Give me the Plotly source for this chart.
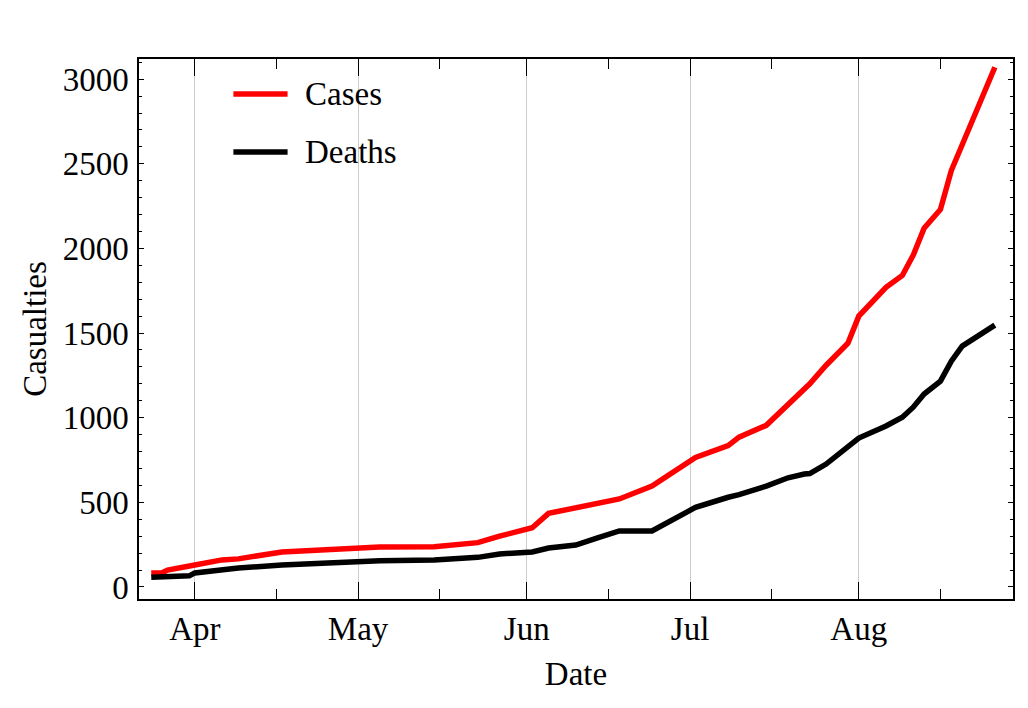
import plotly.graph_objects as go

# values
case_dates = [
    "2020-03-24", "2020-03-26", "2020-03-27", "2020-03-31", "2020-04-01",
    "2020-04-06", "2020-04-09", "2020-04-17", "2020-05-01", "2020-05-05",
    "2020-05-15", "2020-05-23", "2020-05-27", "2020-06-02", "2020-06-05",
    "2020-06-10", "2020-06-14", "2020-06-18", "2020-06-24", "2020-07-01",
    "2020-07-02", "2020-07-08", "2020-07-10", "2020-07-15", "2020-07-19",
    "2020-07-23", "2020-07-26", "2020-07-30", "2020-08-01", "2020-08-06",
    "2020-08-09", "2020-08-11", "2020-08-13", "2020-08-16", "2020-08-18",
    "2020-08-26",
]
cases = [
    82, 84, 100, 118, 130,
    160, 166, 207, 230, 236,
    237, 262, 300, 350, 435,
    470, 496, 520, 596, 750,
    765, 835, 885, 955, 1080,
    1200, 1310, 1440, 1600, 1770,
    1840, 1960, 2120, 2230, 2460,
    3070,
]

death_dates = [
    "2020-03-24", "2020-03-26", "2020-03-27", "2020-03-31", "2020-04-01",
    "2020-04-06", "2020-04-09", "2020-04-17", "2020-05-01", "2020-05-05",
    "2020-05-15", "2020-05-23", "2020-05-27", "2020-06-02", "2020-06-05",
    "2020-06-10", "2020-06-14", "2020-06-18", "2020-06-24", "2020-07-01",
    "2020-07-02", "2020-07-08", "2020-07-10", "2020-07-15", "2020-07-19",
    "2020-07-22", "2020-07-23", "2020-07-26", "2020-07-30", "2020-08-01",
    "2020-08-06", "2020-08-09", "2020-08-11", "2020-08-13", "2020-08-16",
    "2020-08-18", "2020-08-20", "2020-08-26",
]
deaths = [
    58, 62, 64, 66, 83,
    100, 112, 130, 153, 155,
    159, 175, 195, 207, 230,
    248, 290, 331, 331, 460,
    470, 530, 545, 596, 645,
    667, 670, 726, 832, 880,
    951, 1003, 1062, 1140, 1216,
    1334, 1423, 1547,
]

series_names = ["Cases", "Deaths"]
series_colors = ["#ff0000", "#000000"]

FONT = "Liberation Serif"
FSIZE = 33

fig = go.Figure()
fig.add_trace(go.Scatter(x=case_dates, y=cases, mode="lines", name=series_names[0],
                         line=dict(color=series_colors[0], width=5.5), showlegend=False))
fig.add_trace(go.Scatter(x=death_dates, y=deaths, mode="lines", name=series_names[1],
                         line=dict(color=series_colors[1], width=5.5), showlegend=False))

# hand-drawn legend (longer line samples than plotly's own legend)
for i, (name, color) in enumerate(zip(series_names, series_colors)):
    ly = 0.935 - i * 0.107
    fig.add_shape(type="line", xref="paper", yref="paper",
                  x0=0.108, x1=0.17, y0=ly, y1=ly,
                  line=dict(color=color, width=5.5))
    fig.add_annotation(xref="paper", yref="paper", x=0.188, y=ly, text=name,
                       showarrow=False, xanchor="left", yanchor="middle",
                       font=dict(family=FONT, size=FSIZE, color="black"))

# page body has an 8px margin, so the figure is a bit smaller than the window
fig.update_layout(
    width=1020,
    height=700,
    margin=dict(l=131, r=15, t=51, b=109),
    paper_bgcolor="white",
    plot_bgcolor="white",
    font=dict(family=FONT, size=FSIZE, color="black"),
    showlegend=False,
)

fig.update_xaxes(
    type="date",
    range=["2020-03-21 18:00", "2020-08-29 08:00"],
    tick0="2020-04-01",
    dtick="M1",
    tickformat="%b",
    ticks="inside",
    ticklen=17,
    tickwidth=1.3,
    tickcolor="black",
    showline=True,
    linecolor="black",
    linewidth=1.5,
    mirror="ticks",
    showgrid=True,
    gridcolor="#cccccc",
    gridwidth=1,
    zeroline=False,
    minor=dict(tick0="2020-04-16", dtick="M1", ticks="inside", ticklen=10,
               tickcolor="black", tickwidth=1.3, showgrid=False),
    title=dict(text="Date", standoff=16, font=dict(size=FSIZE)),
    tickfont=dict(size=FSIZE),
)

fig.update_yaxes(
    range=[-71, 3119],
    tick0=0,
    dtick=500,
    ticks="inside",
    ticklen=5,
    tickwidth=1.3,
    tickcolor="black",
    showline=True,
    linecolor="black",
    linewidth=1.5,
    mirror="ticks",
    showgrid=False,
    zeroline=False,
    minor=dict(dtick=100, ticks="inside", ticklen=3, tickcolor="black",
               tickwidth=1.1, showgrid=False),
    title=dict(text="Casualties", standoff=6, font=dict(size=FSIZE)),
    tickfont=dict(size=FSIZE),
    ticklabelstandoff=2,
)

fig.write_html("out.html")
